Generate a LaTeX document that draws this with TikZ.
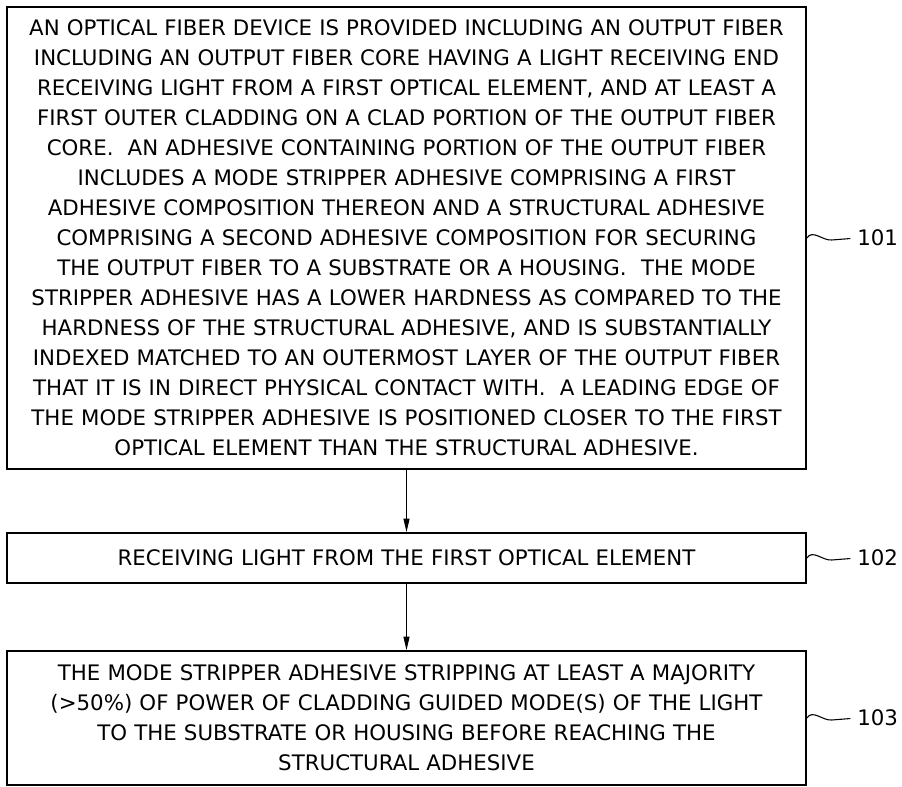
\documentclass[tikz,border=0pt]{standalone}
\usepackage{fontspec}
\setmainfont{DejaVu Sans}
\usepackage{tikz}
\usetikzlibrary{arrows.meta,positioning,calc}
\tikzset{
  >={Stealth[length=10pt,width=4.5pt,inset=0pt]},
  % boxes
  pb/.style={draw=black,line width=1.4pt,fill=white,inner sep=0pt,
             align=center,text width=595pt,minimum width=599pt},
  pa/.style={->,draw=black,line width=0.8pt},
  % reference numerals
  rl/.style={draw=black,line width=0.8pt,shorten >=5pt},
  rn/.style={anchor=west,inner sep=0pt},
}

\begin{document}
\begin{tikzpicture}[x=0.75pt,y=-0.75pt,every node/.append style={font=\fontsize{16}{22.5}\selectfont}]
  \useasboundingbox (0,0) rectangle (902,787);
  \node[pb,minimum height=346.5pt] (b1) at (406.5,238) {%
    AN OPTICAL FIBER DEVICE IS PROVIDED INCLUDING AN OUTPUT FIBER\\
    INCLUDING AN OUTPUT FIBER CORE HAVING A LIGHT RECEIVING END\\
    RECEIVING LIGHT FROM A FIRST OPTICAL ELEMENT, AND AT LEAST A\\
    FIRST OUTER CLADDING ON A CLAD PORTION OF THE OUTPUT FIBER\\
    CORE.\ \ AN ADHESIVE CONTAINING PORTION OF THE OUTPUT FIBER\\
    INCLUDES A MODE STRIPPER ADHESIVE COMPRISING A FIRST\\
    ADHESIVE COMPOSITION THEREON AND A STRUCTURAL ADHESIVE\\
    COMPRISING A SECOND ADHESIVE COMPOSITION FOR SECURING\\
    THE OUTPUT FIBER TO A SUBSTRATE OR A HOUSING.\ \ THE MODE\\
    STRIPPER ADHESIVE HAS A LOWER HARDNESS AS COMPARED TO THE\\
    HARDNESS OF THE STRUCTURAL ADHESIVE, AND IS SUBSTANTIALLY\\
    INDEXED MATCHED TO AN OUTERMOST LAYER OF THE OUTPUT FIBER\\
    THAT IT IS IN DIRECT PHYSICAL CONTACT WITH.\ \ A LEADING EDGE OF\\
    THE MODE STRIPPER ADHESIVE IS POSITIONED CLOSER TO THE FIRST\\
    OPTICAL ELEMENT THAN THE STRUCTURAL ADHESIVE.};
  \node[pb,minimum height=37.5pt] (b2) at (406.5,558)
    {RECEIVING LIGHT FROM THE FIRST OPTICAL ELEMENT};
  \node[pb,minimum height=100.5pt] (b3) at (406.5,718) {%
    THE MODE STRIPPER ADHESIVE STRIPPING AT LEAST A MAJORITY\\
    (>50\%) OF POWER OF CLADDING GUIDED MODE(S) OF THE LIGHT\\
    TO THE SUBSTRATE OR HOUSING BEFORE REACHING THE\\
    STRUCTURAL ADHESIVE};
  \node[rn] (l1) at (857,238) {101};
  \node[rn] (l2) at (857,558) {102};
  \node[rn] (l3) at (857,718) {103};
  \draw[pa] (b1) -- (b2);
  \draw[pa] (b2) -- (b3);
  % lead lines
  \foreach \b/\l in {b1/l1,b2/l2,b3/l3}{
    \draw[rl] (\b.east) .. controls +(6,-9) and +(-9,1) .. ++(25,2) -- (\l.west);
  }
\end{tikzpicture}
\end{document}
